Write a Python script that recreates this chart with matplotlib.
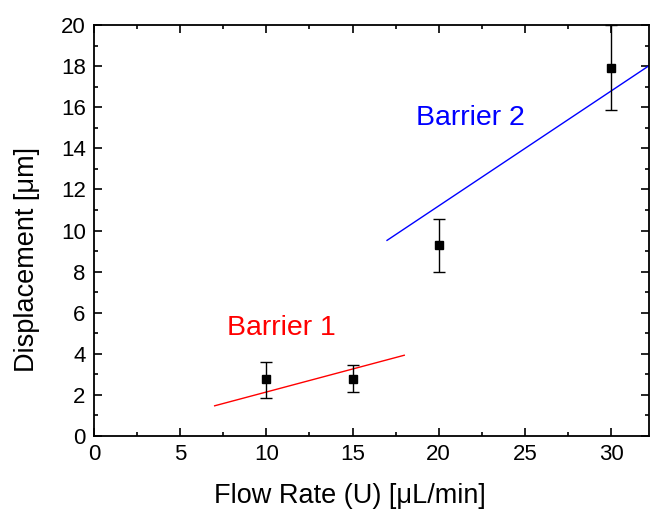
import numpy as np
import matplotlib.pyplot as plt
from matplotlib.ticker import MultipleLocator

plt.rcParams['font.family'] = ['Liberation Sans', 'DejaVu Sans']

flow = [10, 15, 20, 30]
disp = [2.76, 2.79, 9.28, 17.92]
err_lo = [1.86, 2.14, 7.97, 15.86]
err_hi = [3.62, 3.45, 10.57, 20.0]

fit1_x = [7.0, 18.0]
fit1_y = [1.47, 3.93]
fit2_x = [17.0, 32.2]
fit2_y = [9.52, 18.02]

disp = np.array(disp)
yerr = [disp - np.array(err_lo), np.array(err_hi) - disp]

fig = plt.figure(figsize=(6.5, 5.18), dpi=100)
ax = fig.add_axes([0.1446, 0.1583, 0.8539, 0.7934])

ax.errorbar(flow, disp, yerr=yerr, fmt='s', color='black', ms=6,
            ecolor='black', elinewidth=1, capsize=4, capthick=1, clip_on=False, zorder=3)
ax.plot(fit1_x, fit1_y, color='red', lw=1)
ax.plot(fit2_x, fit2_y, color='blue', lw=1)

ax.text(10.9, 5.26, 'Barrier 1', color='red', fontsize=20.5, ha='center', va='center')
ax.text(21.85, 15.47, 'Barrier 2', color='blue', fontsize=20.5, ha='center', va='center')

ax.set_xlim(0, 32.2)
ax.set_ylim(0, 20)
ax.xaxis.set_major_locator(MultipleLocator(5))
ax.xaxis.set_minor_locator(MultipleLocator(2.5))
ax.yaxis.set_major_locator(MultipleLocator(2))
ax.yaxis.set_minor_locator(MultipleLocator(1))
ax.tick_params(which='both', direction='in', top=True, right=True, labelsize=16, width=1.2)
ax.tick_params(which='major', length=6, pad=6)
ax.tick_params(which='minor', length=3)
for s in ax.spines.values():
    s.set_linewidth(1.3)

ax.set_xlabel('Flow Rate (U) [μL/min]', fontsize=19.5)
ax.set_ylabel('Displacement [μm]', fontsize=19.5)
ax.xaxis.set_label_coords(0.461, -0.115)
ax.yaxis.set_label_coords(-0.097, 0.43)

fig.savefig('out.png', dpi=100)
